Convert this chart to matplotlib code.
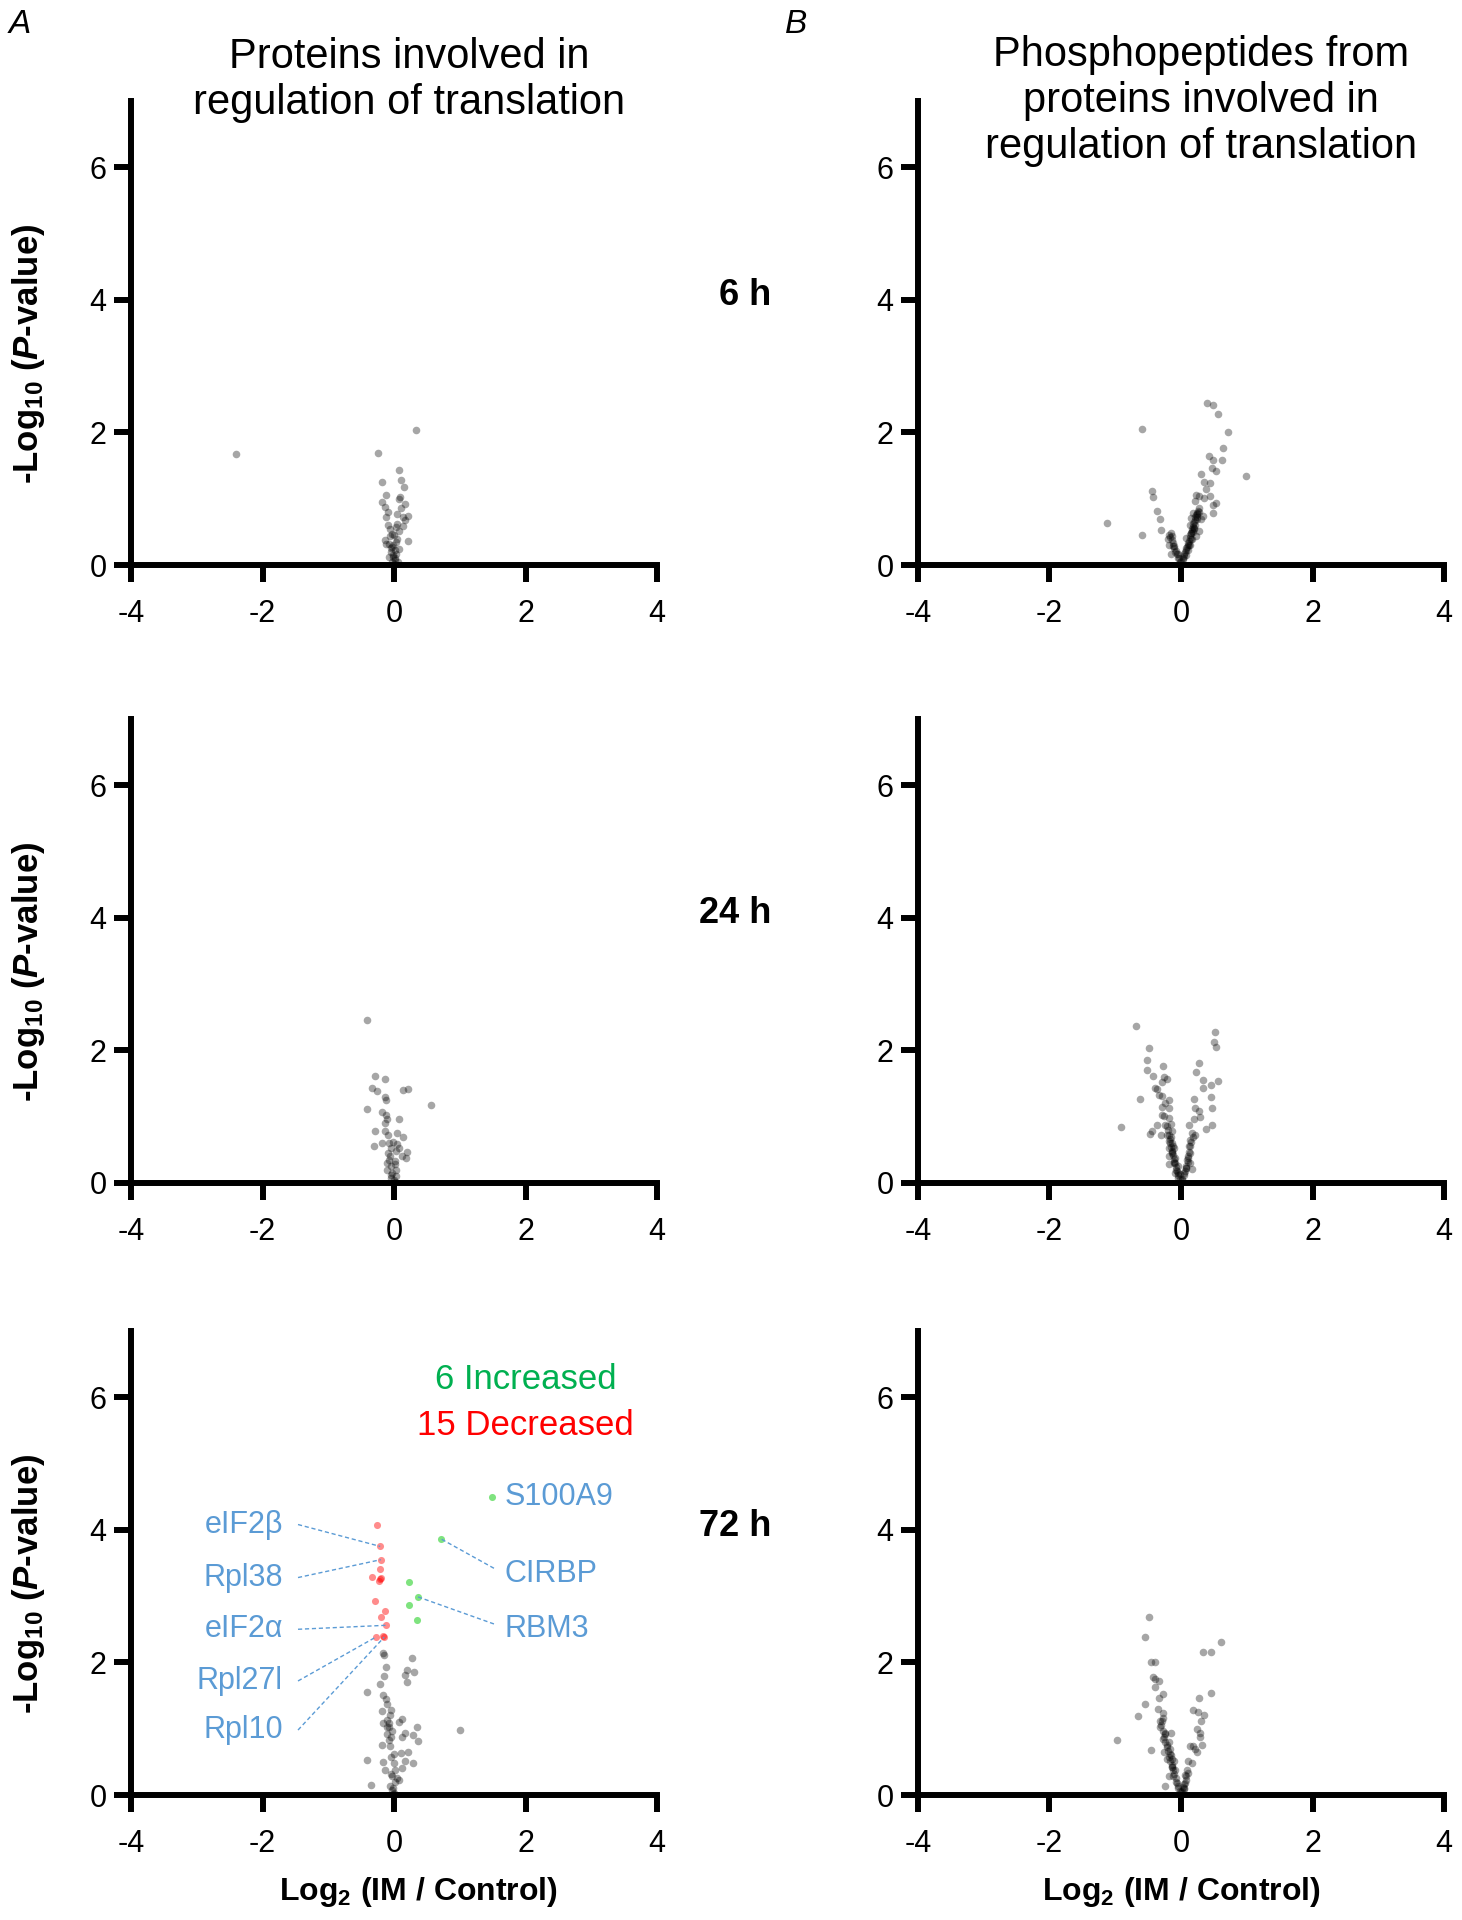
import matplotlib.pyplot as plt

plt.rcParams['font.family'] = 'Liberation Sans'
plt.rcParams['axes.unicode_minus'] = False
plt.rcParams['mathtext.fontset'] = 'custom'
plt.rcParams['mathtext.rm'] = 'Liberation Sans'
plt.rcParams['mathtext.bf'] = 'Liberation Sans:bold'
plt.rcParams['mathtext.it'] = 'Liberation Sans:italic:bold'

# values: (log2 ratio, -log10 p)
a6_pts = [(0.33, 2.03), (-0.25, 1.69), (0.08, 1.44), (0.11, 1.29), (-0.18, 1.26), (0.15, 1.18),
          (-0.12, 1.05), (0.09, 1.03), (-0.19, 0.95), (0.07, 0.99), (0.17, 0.92), (-0.14, 0.87),
          (0.10, 0.86), (0.21, 0.74), (-0.12, 0.72), (0.05, 0.77), (0.13, 0.72), (0.17, 0.68),
          (-0.09, 0.61), (0.03, 0.57), (0.08, 0.52), (0.14, 0.59), (-0.03, 0.47), (-0.06, 0.44),
          (0.21, 0.37), (-0.13, 0.38), (0.05, 0.39), (-0.08, 0.32), (0.08, 0.24), (-0.03, 0.27),
          (-0.12, 0.32), (-0.05, 0.19), (0.03, 0.17), (-0.02, 0.12), (0.01, 0.07), (-0.03, 0.04),
          (-2.40, 1.67), (0.00, 0.02), (0.02, 0.10), (-0.02, 0.15), (0.01, 0.22), (-0.01, 0.30),
          (0.03, 0.35), (-0.04, 0.25), (0.00, 0.45), (-0.06, 0.55), (0.04, 0.62), (-0.09, 0.80),
          (0.06, 0.05), (-0.07, 0.12)]

b6_pts = [(0.40, 2.44), (0.48, 2.41), (0.57, 2.28), (-0.60, 2.05), (0.72, 2.01), (0.64, 1.76),
          (0.43, 1.64), (0.48, 1.59), (0.63, 1.59), (0.31, 1.37), (0.47, 1.46), (0.53, 1.42),
          (0.99, 1.35), (0.35, 1.26), (0.44, 1.24), (0.38, 1.14), (-0.44, 1.11), (-0.42, 1.03),
          (0.23, 1.06), (0.28, 1.04), (0.44, 1.04), (0.35, 1.01), (0.22, 0.96), (0.53, 0.94),
          (0.48, 0.91), (-0.37, 0.81), (0.18, 0.79), (0.25, 0.77), (0.34, 0.74), (0.49, 0.79),
          (-0.32, 0.70), (0.15, 0.71), (0.30, 0.69), (-1.13, 0.63), (-0.30, 0.53), (-0.60, 0.45),
          (0.13, 0.61), (0.20, 0.56), (0.28, 0.51), (0.15, 0.49), (0.08, 0.41), (0.17, 0.39),
          (0.23, 0.44), (-0.15, 0.49), (-0.13, 0.44), (-0.20, 0.39), (-0.18, 0.31), (-0.10, 0.26),
          (-0.15, 0.16), (-0.05, 0.16), (0.08, 0.26), (0.13, 0.31), (0.05, 0.16), (0.00, 0.06),
          (-0.03, 0.11), (0.03, 0.09),
          (0.03, 0.10), (0.05, 0.14), (0.06, 0.19), (0.08, 0.22), (0.09, 0.27), (0.10, 0.30),
          (0.11, 0.34), (0.12, 0.37), (0.13, 0.41), (0.14, 0.45), (0.15, 0.48), (0.16, 0.52),
          (0.17, 0.55), (0.18, 0.58), (0.19, 0.62), (0.20, 0.65), (0.21, 0.68), (0.22, 0.72),
          (0.23, 0.75), (0.24, 0.78), (0.26, 0.82), (0.27, 0.86), (0.12, 0.30), (0.15, 0.40),
          (0.18, 0.50), (0.21, 0.60), (0.24, 0.70), (0.10, 0.22), (0.07, 0.15), (0.20, 0.55),
          (0.25, 0.72), (0.28, 0.80), (-0.02, 0.05), (-0.04, 0.10), (-0.06, 0.16), (-0.08, 0.21),
          (-0.10, 0.28), (-0.12, 0.33), (-0.14, 0.38), (-0.16, 0.42), (-0.18, 0.46), (-0.09, 0.20),
          (-0.12, 0.28)]

a24_pts = [(-0.41, 2.45), (-0.29, 1.62), (-0.13, 1.57), (-0.33, 1.43), (-0.26, 1.39), (0.13, 1.40),
           (0.21, 1.41), (-0.13, 1.30), (-0.12, 1.25), (0.56, 1.18), (-0.41, 1.12), (-0.18, 1.07),
           (-0.12, 1.02), (-0.10, 0.96), (0.08, 0.97), (-0.13, 0.90), (-0.29, 0.79), (-0.14, 0.78),
           (0.04, 0.76), (-0.09, 0.73), (0.14, 0.70), (-0.18, 0.60), (-0.30, 0.56), (-0.08, 0.60),
           (0.05, 0.59), (0.07, 0.53), (-0.05, 0.53), (0.03, 0.48), (0.19, 0.46), (0.12, 0.41),
           (0.18, 0.37), (-0.09, 0.45), (-0.07, 0.35), (0.02, 0.28), (-0.10, 0.30), (-0.04, 0.25),
           (0.03, 0.20), (-0.11, 0.19), (-0.03, 0.15), (0.03, 0.10), (-0.04, 0.08), (0.00, 0.04),
           (-0.06, 0.40), (-0.02, 0.62), (0.01, 0.33), (-0.05, 0.12), (0.02, 0.02)]

b24_pts = [(-0.68, 2.36), (0.52, 2.27), (0.50, 2.13), (0.53, 2.05), (-0.48, 2.04), (-0.51, 1.85),
           (0.27, 1.81), (-0.28, 1.77), (-0.52, 1.71), (0.23, 1.67), (-0.43, 1.61), (-0.26, 1.60),
           (-0.21, 1.56), (0.34, 1.55), (0.56, 1.53), (-0.29, 1.52), (0.45, 1.47), (0.33, 1.43),
           (-0.40, 1.43), (-0.36, 1.42), (-0.34, 1.33), (-0.29, 1.31), (0.45, 1.30), (-0.62, 1.26),
           (0.20, 1.26), (-0.19, 1.25), (-0.24, 1.21), (-0.29, 1.15), (-0.19, 1.13), (0.21, 1.13),
           (0.47, 1.13), (0.27, 1.08), (-0.26, 1.01), (-0.29, 1.02), (0.29, 1.00), (-0.19, 0.98),
           (0.20, 0.96), (-0.24, 0.88), (-0.15, 0.89), (-0.36, 0.87), (0.12, 0.88), (0.47, 0.87),
           (0.38, 0.82), (-0.91, 0.84), (-0.44, 0.79), (-0.47, 0.74), (-0.31, 0.72), (-0.21, 0.73),
           (-0.13, 0.78), (0.17, 0.76), (0.22, 0.73), (0.14, 0.65), (-0.18, 0.63), (-0.13, 0.60),
           (-0.19, 0.53), (-0.10, 0.53), (0.12, 0.55), (-0.19, 0.40), (-0.14, 0.45), (-0.09, 0.38),
           (0.14, 0.45), (0.11, 0.38), (-0.19, 0.28), (-0.11, 0.30), (-0.05, 0.25), (0.14, 0.30),
           (0.08, 0.23), (0.16, 0.21), (-0.09, 0.15), (-0.01, 0.13), (0.04, 0.15), (-0.04, 0.08),
           (0.02, 0.05),
           (-0.02, 0.06), (-0.04, 0.12), (-0.06, 0.18), (-0.07, 0.24), (-0.09, 0.30), (-0.10, 0.36),
           (-0.12, 0.42), (-0.13, 0.48), (-0.15, 0.54), (-0.16, 0.60), (-0.17, 0.66), (-0.18, 0.72),
           (-0.20, 0.80), (-0.22, 0.86), (-0.08, 0.20), (-0.11, 0.32), (-0.14, 0.46), (-0.05, 0.15),
           (-0.15, 0.70), (-0.12, 0.55), (0.02, 0.06), (0.04, 0.12), (0.06, 0.18), (0.08, 0.25),
           (0.10, 0.32), (0.11, 0.40), (0.12, 0.47), (0.13, 0.55), (0.15, 0.62), (0.18, 0.70),
           (0.07, 0.22), (0.09, 0.35)]

a72_pts = [(-0.17, 2.14), (-0.15, 2.11), (0.28, 2.06), (-0.12, 1.93), (0.20, 1.88), (0.31, 1.86),
           (0.16, 1.81), (-0.15, 1.79), (0.20, 1.71), (-0.21, 1.67), (-0.41, 1.55), (-0.16, 1.51),
           (-0.12, 1.45), (-0.10, 1.38), (-0.19, 1.27), (-0.06, 1.20), (-0.11, 1.13), (0.12, 1.15),
           (0.08, 1.10), (-0.16, 1.08), (-0.08, 1.03), (0.35, 1.03), (1.01, 0.98), (0.16, 0.94),
           (0.29, 0.90), (0.37, 0.81), (-0.11, 0.92), (0.12, 0.87), (-0.04, 0.87), (-0.19, 0.76),
           (-0.06, 0.74), (0.21, 0.65), (0.10, 0.63), (-0.41, 0.53), (-0.16, 0.50), (0.29, 0.48),
           (0.17, 0.51), (0.00, 0.48), (0.12, 0.41), (-0.13, 0.37), (-0.05, 0.32), (0.05, 0.26),
           (0.08, 0.22), (-0.35, 0.15), (-0.06, 0.14), (-0.03, 0.07), (0.00, 0.03),
           (0.00, 0.02), (-0.02, 0.10), (0.01, 0.20), (-0.03, 0.28), (0.02, 0.38), (-0.05, 0.58),
           (0.00, 0.62), (-0.07, 0.83), (-0.03, 0.97), (-0.08, 1.08), (-0.05, 1.28), (-0.10, 1.02)]

red_pts = [(-0.26, 4.08), (-0.21, 3.75), (-0.20, 3.55), (-0.21, 3.41), (-0.34, 3.29), (-0.20, 3.27),
           (-0.23, 3.23), (-0.29, 2.93), (-0.13, 2.77), (-0.20, 2.69), (-0.12, 2.56), (-0.28, 2.38),
           (-0.15, 2.38), (-0.16, 2.40), (-0.22, 3.26)]

green_pts = [(1.49, 4.50), (0.72, 3.86), (0.23, 3.22), (0.36, 2.99), (0.23, 2.87), (0.35, 2.64)]

b72_pts = [(-0.48, 2.68), (-0.54, 2.39), (0.61, 2.31), (0.33, 2.15), (0.46, 2.16), (-0.46, 2.00),
           (-0.39, 2.00), (-0.43, 1.78), (-0.39, 1.75), (-0.33, 1.72), (-0.40, 1.63), (0.45, 1.54),
           (-0.28, 1.52), (-0.33, 1.46), (0.27, 1.46), (-0.55, 1.38), (-0.35, 1.30), (0.19, 1.28),
           (0.26, 1.25), (0.35, 1.21), (-0.28, 1.23), (-0.66, 1.19), (-0.27, 1.16), (-0.29, 1.11),
           (0.30, 1.11), (-0.32, 1.02), (0.24, 0.99), (-0.15, 0.94), (-0.25, 0.93), (0.29, 0.94),
           (0.29, 0.88), (-0.98, 0.83), (-0.27, 0.85), (-0.19, 0.80), (0.13, 0.74), (0.19, 0.74),
           (0.32, 0.76), (0.21, 0.70), (0.24, 0.65), (-0.46, 0.68), (-0.17, 0.70), (-0.26, 0.65),
           (-0.15, 0.60), (-0.13, 0.55), (-0.22, 0.55), (-0.10, 0.51), (0.11, 0.51), (0.17, 0.48),
           (-0.14, 0.43), (-0.09, 0.38), (0.09, 0.38), (-0.18, 0.29), (-0.12, 0.28), (0.06, 0.30),
           (-0.24, 0.14), (-0.07, 0.20), (0.06, 0.18), (-0.04, 0.10), (0.04, 0.09), (0.00, 0.04),
           (-0.02, 0.06), (-0.04, 0.13), (-0.06, 0.18), (-0.08, 0.25), (-0.10, 0.32), (-0.12, 0.38),
           (-0.14, 0.46), (-0.16, 0.52), (-0.18, 0.58), (-0.20, 0.66), (-0.22, 0.72), (-0.24, 0.80),
           (-0.26, 0.88), (-0.28, 0.96), (-0.30, 1.05), (-0.32, 1.12), (-0.13, 0.42), (-0.17, 0.62),
           (-0.21, 0.76), (-0.25, 0.92), (0.02, 0.06), (0.03, 0.12), (0.05, 0.16), (0.07, 0.22),
           (0.08, 0.28), (0.10, 0.33), (0.04, 0.10)]

time_labels = ['6 h', '24 h', '72 h']
title_a = 'Proteins involved in\nregulation of translation'
title_b = 'Phosphopeptides from\nproteins involved in\nregulation of translation'

left_names = ['eIF2β', 'Rpl38', 'eIF2α', 'Rpl27l', 'Rpl10']
left_label_y = [4.08, 3.28, 2.50, 1.72, 0.98]
left_targets = [1, 2, 10, 11, 12]          # index into red_pts
right_names = ['S100A9', 'CIRBP', 'RBM3']
right_label_y = [4.50, 3.34, 2.50]
right_targets = [None, 1, 3]               # index into green_pts

blue = '#5b9bd5'
lw_axis = 4.3

fig = plt.figure(figsize=(14.62, 19.2), dpi=100)
lefts = [0.0896, 0.6279]
bottoms = [0.7057, 0.3839, 0.0651]
w, h = 0.3598, 0.2417
time_y = [0.846, 0.524, 0.205]


def style(ax):
    ax.set_xlim(-4, 4)
    ax.set_ylim(0, 7)
    ax.set_xticks([-4, -2, 0, 2, 4])
    ax.set_yticks([0, 2, 4, 6])
    for s in ['top', 'right']:
        ax.spines[s].set_visible(False)
    for s in ['left', 'bottom']:
        ax.spines[s].set_linewidth(lw_axis)
    ax.tick_params(axis='both', width=lw_axis, length=12.5, labelsize=22)
    ax.tick_params(axis='x', pad=12)
    ax.tick_params(axis='y', pad=5)


rows = [(a6_pts, b6_pts), (a24_pts, b24_pts), (a72_pts, b72_pts)]
for r, (apts, bpts) in enumerate(rows):
    axa = fig.add_axes([lefts[0], bottoms[r], w, h])
    axb = fig.add_axes([lefts[1], bottoms[r], w, h])
    for ax, pts in [(axa, apts), (axb, bpts)]:
        style(ax)
        xs, ys = zip(*pts)
        ax.scatter(xs, ys, s=30, c='black', alpha=0.35, linewidths=0)
    axa.set_ylabel(r'-Log$_{\mathbf{10}}$ ($\mathit{P}$-value)', fontsize=25, fontweight='bold')
    axa.yaxis.set_label_coords(-0.16, 0.455)
    fig.text(0.5274, time_y[r], time_labels[r], ha='right', va='center',
             fontsize=26, fontweight='bold')
    if r == 2:
        for ax, xc in [(axa, 0.547), (axb, 0.5)]:
            ax.set_xlabel(r'Log$_{\mathbf{2}}$ (IM / Control)', fontsize=23,
                          fontweight='bold', va='center')
            ax.xaxis.set_label_coords(xc, -0.209)

        rx, ry = zip(*red_pts)
        gx, gy = zip(*green_pts)
        axa.scatter(rx, ry, s=26, c='#ff0000', alpha=0.45, linewidths=0)
        axa.scatter(gx, gy, s=26, c='#00c800', alpha=0.5, linewidths=0)
        axa.text(2.0, 6.27, '6 Increased', color='#00b050', fontsize=25, ha='center', va='center')
        axa.text(2.0, 5.57, '15 Decreased', color='#ff0000', fontsize=25, ha='center', va='center')

        for name, ly, t in zip(left_names, left_label_y, left_targets):
            axa.text(-1.69, ly, name, color=blue, fontsize=22, ha='right', va='center')
            px, py = red_pts[t]
            axa.plot([-1.46, px], [ly, py], color=blue, lw=1, ls=(0, (3, 2)))
        for name, ly, t in zip(right_names, right_label_y, right_targets):
            axa.text(1.68, ly, name, color=blue, fontsize=22, ha='left', va='center')
            if t is not None:
                px, py = green_pts[t]
                axa.plot([1.52, px], [ly + 0.08, py], color=blue, lw=1, ls=(0, (3, 2)))

fig.text(0.2797, 0.9583, title_a, ha='center', va='center', fontsize=30, linespacing=1.2)
fig.text(0.8215, 0.9474, title_b, ha='center', va='center', fontsize=30, linespacing=1.2)
fig.text(0.0137, 0.9872, 'A', ha='center', va='center', fontsize=24, style='italic')
fig.text(0.5445, 0.9872, 'B', ha='center', va='center', fontsize=24, style='italic')

fig.savefig('out.png', dpi=100)
